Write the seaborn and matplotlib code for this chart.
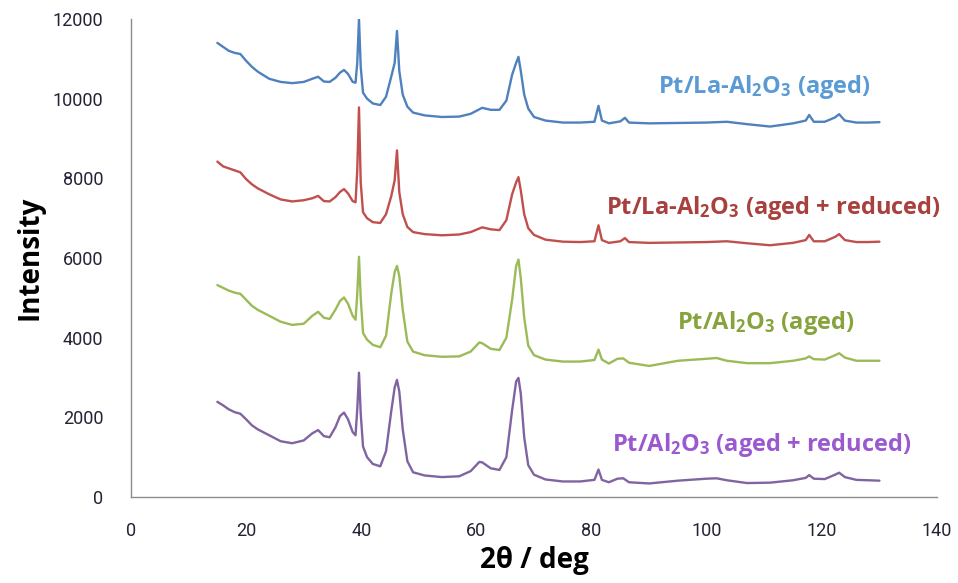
import matplotlib
matplotlib.use("Agg")
import matplotlib.pyplot as plt
import seaborn as sns
import pandas as pd

# ---------------- data ----------------
x_la = [15, 16, 17, 18, 19, 20, 21, 22,
        24, 26, 28, 30,
        31.5, 32.5, 33.5, 34.5, 35.5, 36.3, 37, 37.7, 38.5,
        39.0, 39.3, 39.6, 39.9, 40.3,
        41, 42, 43.3, 44.3, 45.2, 45.8, 46.2, 46.6, 47.2,
        48, 49, 51, 54, 57, 59, 61, 62.5, 64,
        65.2, 66.2, 66.9, 67.3, 67.7, 68.3, 69, 70,
        72, 75, 78, 80.5, 81.2, 81.8, 83,
        85, 85.8, 86.5, 90, 95, 100, 103.5, 107, 111, 115,
        117.2, 117.8, 118.6, 120.5, 122.3, 123, 124, 126, 128, 130]

la_aged = [11400, 11300, 11200, 11150, 11120, 10950, 10800, 10680,
           10500, 10420, 10390, 10420,
           10500, 10550, 10430, 10420, 10520, 10650, 10720, 10620, 10420,
           10400, 10900, 12000, 10800, 10150,
           10000, 9880, 9840, 10050, 10550, 10900, 11700, 10700, 10100,
           9800, 9650, 9580, 9540, 9550, 9620, 9770, 9720, 9720,
           9950, 10600, 10900, 11050, 10700, 10100, 9750, 9540,
           9450, 9400, 9400, 9420, 9820, 9450, 9380,
           9430, 9520, 9400, 9380, 9390, 9400, 9420, 9360, 9300, 9380,
           9450, 9590, 9420, 9420, 9530, 9610, 9450, 9400, 9400, 9410]

la_reduced = [8420, 8300, 8250, 8200, 8150, 7980, 7850, 7750,
              7600, 7470, 7420, 7450,
              7500, 7560, 7430, 7420, 7530, 7660, 7730, 7620, 7430,
              7400, 8200, 9780, 7900, 7150,
              7000, 6900, 6880, 7100, 7550, 7950, 8700, 7650, 7100,
              6780, 6650, 6600, 6570, 6590, 6650, 6770, 6720, 6700,
              6950, 7600, 7900, 8030, 7700, 7100, 6750, 6580,
              6460, 6410, 6400, 6420, 6820, 6450, 6380,
              6420, 6500, 6400, 6380, 6390, 6400, 6420, 6370, 6320, 6380,
              6450, 6580, 6420, 6420, 6530, 6600, 6450, 6400, 6400, 6410]

x_al = [15, 16, 17, 18, 19, 20, 21, 22,
        24, 26, 28, 30,
        31.5, 32.5, 33.5, 34.5, 35.5, 36.3, 37, 37.7, 38.5,
        39.0, 39.3, 39.6, 39.9, 40.3,
        41, 42, 43.3, 44.3, 45.2, 45.8, 46.2, 46.6, 47.2,
        48, 49, 51, 54, 57, 59, 60.5, 61, 62.5, 64,
        65.2, 66.2, 66.9, 67.3, 67.7, 68.3, 69, 70,
        72, 75, 78, 80.5, 81.2, 81.8, 83,
        84.5, 85.5, 86.5, 90, 95, 100, 101.7, 103.5, 107, 111, 115,
        117.2, 117.8, 118.6, 120.5, 122.3, 123, 124, 126, 128, 130]

al_aged = [5320, 5250, 5180, 5130, 5100, 4950, 4800, 4700,
           4550, 4400, 4320, 4350,
           4550, 4650, 4500, 4470, 4700, 4920, 5010, 4850, 4550,
           4450, 5100, 6030, 5000, 4120,
           3950, 3820, 3760, 4050, 5100, 5650, 5800, 5550, 4700,
           3900, 3650, 3560, 3520, 3530, 3650, 3880, 3860, 3720, 3690,
           4000, 4950, 5800, 5960, 5500, 4500, 3800, 3560,
           3450, 3400, 3400, 3440, 3700, 3450, 3350,
           3470, 3480, 3370, 3290, 3420, 3470, 3490, 3420, 3360, 3360, 3420,
           3480, 3530, 3460, 3450, 3560, 3610, 3500, 3420, 3420, 3420]

al_reduced = [2390, 2300, 2200, 2130, 2090, 1950, 1800, 1700,
              1550, 1400, 1350, 1420,
              1600, 1680, 1530, 1500, 1750, 2030, 2120, 1950, 1630,
              1550, 2200, 3120, 2100, 1270,
              1000, 830, 770, 1150, 2150, 2750, 2940, 2650, 1700,
              900, 620, 540, 500, 520, 650, 880, 870, 720, 680,
              1000, 2180, 2900, 2990, 2600, 1500, 800, 560,
              440, 390, 390, 430, 690, 430, 370,
              460, 470, 370, 340, 410, 460, 470, 420, 350, 360, 420,
              480, 550, 460, 450, 560, 610, 500, 430, 420, 410]

series_names = ["Pt/La-Al2O3 (aged)", "Pt/La-Al2O3 (aged + reduced)",
                "Pt/Al2O3 (aged)", "Pt/Al2O3 (aged + reduced)"]
label_texts = [r"Pt/La-Al$_2$O$_3$ (aged)", r"Pt/La-Al$_2$O$_3$ (aged + reduced)",
               r"Pt/Al$_2$O$_3$ (aged)", r"Pt/Al$_2$O$_3$ (aged + reduced)"]
x_ticks = [0, 20, 40, 60, 80, 100, 120, 140]
y_ticks = [0, 2000, 4000, 6000, 8000, 10000, 12000]

# ---------------- styling ----------------
line_colors = ["#4F81BD", "#C0504D", "#9BBB59", "#8064A2"]
text_colors = ["#5B9BD5", "#A8403D", "#86A33C", "#9B59D0"]
label_pos = [(91.5, 10290), (82.5, 7254), (94.8, 4367), (83.5, 1305)]

sns.set_style("white")
plt.rcParams["font.family"] = ["Roboto", "DejaVu Sans"]
plt.rcParams["mathtext.fontset"] = "custom"
plt.rcParams["mathtext.default"] = "regular"
plt.rcParams["mathtext.rm"] = "Open Sans"

frames = []
for name, xs, ys in zip(series_names,
                        [x_la, x_la, x_al, x_al],
                        [la_aged, la_reduced, al_aged, al_reduced]):
    frames.append(pd.DataFrame({"two_theta": xs, "intensity": ys, "sample": name}))
df = pd.concat(frames, ignore_index=True)

fig = plt.figure(figsize=(9.58, 5.83), dpi=100)
ax = fig.add_axes([131 / 958, 1 - 497 / 583, 806 / 958, 478 / 583])

sns.lineplot(data=df, x="two_theta", y="intensity", hue="sample",
             hue_order=series_names, palette=line_colors,
             estimator=None, sort=False, linewidth=1.7, legend=False, ax=ax)

for txt, (lx, ly), c in zip(label_texts, label_pos, text_colors):
    ax.text(lx, ly, txt, color=c, fontsize=17, fontweight="bold",
            family=["Open Sans", "DejaVu Sans"], ha="left", va="center")

ax.set_xlim(0, 140)
ax.set_ylim(0, 12000)
ax.set_xticks(x_ticks)
ax.set_yticks(y_ticks)

for s in ["top", "right"]:
    ax.spines[s].set_visible(False)
for s in ["left", "bottom"]:
    ax.spines[s].set_color("#8c8c8c")
    ax.spines[s].set_linewidth(1.0)

ax.tick_params(axis="y", direction="out", length=6, width=1, color="#8c8c8c",
               pad=14, labelsize=13, labelcolor="#232336")
ax.tick_params(axis="x", direction="out", length=6, width=1, color="#8c8c8c",
               pad=12, labelsize=13, labelcolor="#232336")

ax.set_xlabel("2θ / deg", fontsize=20, fontweight="bold", color="black",
              family=["Open Sans", "DejaVu Sans"], labelpad=4)
ax.set_ylabel("Intensity", fontsize=20, fontweight="bold", color="black",
              family=["Open Sans", "DejaVu Sans"], labelpad=6)

fig.savefig("out.png", dpi=100)
